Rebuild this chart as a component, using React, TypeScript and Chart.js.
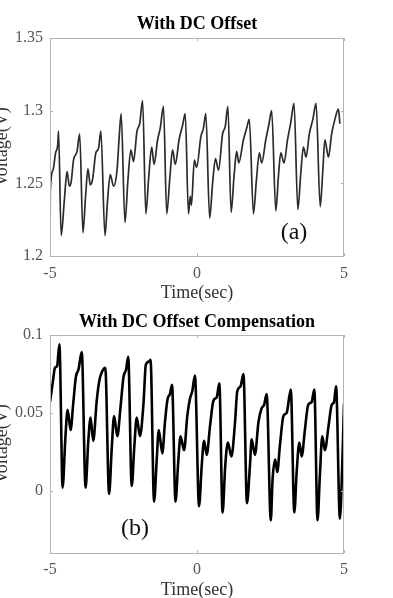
import React, { useEffect, useRef } from "react";
import { Chart, registerables } from "chart.js";

Chart.register(...registerables);

// ---------- data ----------
const timeA = [
  -5, -4.99, -4.9, -4.81, -4.74, -4.71,
  -4.62, -4.51, -4.42, -4.34, -4.28, -4.2, -4.08, -3.99,
  -3.88, -3.79, -3.71, -3.63, -3.55, -3.44, -3.35, -3.27,
  -3.13, -3.04, -2.95, -2.84, -2.72, -2.64, -2.58,
  -2.45, -2.35, -2.25, -2.16, -2.04, -1.95, -1.85,
  -1.74, -1.64, -1.54, -1.46, -1.34, -1.25, -1.14,
  -1.03, -0.92, -0.83, -0.74, -0.61, -0.49, -0.4,
  -0.29, -0.23, -0.19, -0.09, -0.01, 0.13, 0.22, 0.3,
  0.43, 0.53, 0.63, 0.73, 0.87, 0.96, 1.05,
  1.16, 1.26, 1.35, 1.42, 1.58, 1.69, 1.78,
  1.92, 2.02, 2.12, 2.2, 2.34, 2.45, 2.54,
  2.68, 2.77, 2.85, 2.96, 3.08, 3.19, 3.3,
  3.43, 3.53, 3.62, 3.71, 3.82, 3.94, 4.05,
  4.19, 4.28, 4.35, 4.47, 4.58, 4.69, 4.81, 4.86,
];
const voltA = [
  1.2, 1.244, 1.259, 1.271, 1.276, 1.286,
  1.214, 1.239, 1.258, 1.248, 1.251, 1.266, 1.272, 1.284,
  1.216, 1.241, 1.26, 1.249, 1.253, 1.271, 1.274, 1.286,
  1.214, 1.239, 1.256, 1.248, 1.259, 1.284, 1.298,
  1.223, 1.252, 1.273, 1.265, 1.286, 1.291, 1.307,
  1.229, 1.255, 1.275, 1.263, 1.28, 1.288, 1.303,
  1.229, 1.255, 1.273, 1.263, 1.28, 1.29, 1.298,
  1.229, 1.241, 1.235, 1.266, 1.261, 1.282, 1.288, 1.298,
  1.226, 1.25, 1.267, 1.259, 1.284, 1.289, 1.303,
  1.23, 1.255, 1.272, 1.264, 1.28, 1.288, 1.294,
  1.229, 1.252, 1.271, 1.264, 1.28, 1.291, 1.3,
  1.231, 1.255, 1.271, 1.264, 1.28, 1.292, 1.305,
  1.232, 1.257, 1.275, 1.268, 1.284, 1.294, 1.305,
  1.234, 1.259, 1.28, 1.268, 1.284, 1.294, 1.301, 1.291,
];

const timeB = [
  -5, -4.91, -4.83, -4.76, -4.68,
  -4.57, -4.48, -4.4, -4.3, -4.21, -4.12, -4.03, -3.92,
  -3.79, -3.7, -3.62, -3.53, -3.41, -3.32, -3.24, -3.12,
  -2.99, -2.9, -2.82, -2.71, -2.6, -2.5, -2.41, -2.34,
  -2.22, -2.13, -2.05, -1.94, -1.82, -1.74, -1.63, -1.58,
  -1.46, -1.37, -1.3, -1.18, -1.09, -1.0, -0.92, -0.85,
  -0.73, -0.64, -0.56, -0.44, -0.33, -0.24, -0.16, -0.07,
  0.07, 0.16, 0.24, 0.33, 0.44, 0.56, 0.67, 0.76,
  0.87, 0.96, 1.05, 1.17, 1.29, 1.37, 1.48, 1.58,
  1.7, 1.8, 1.86, 1.97, 2.09, 2.2, 2.28, 2.37,
  2.51, 2.57, 2.66, 2.73, 2.82, 2.94, 3.05, 3.19,
  3.31, 3.39, 3.48, 3.56, 3.67, 3.78, 3.9, 3.99,
  4.1, 4.18, 4.26, 4.35, 4.47, 4.58, 4.66, 4.73,
  4.86, 4.94, 5.0,
];
const voltB = [
  0.057, 0.069, 0.079, 0.08, 0.094,
  0.002, 0.033, 0.052, 0.039, 0.056, 0.073, 0.078, 0.089,
  0.002, 0.031, 0.047, 0.032, 0.058, 0.071, 0.076, 0.079,
  -0.002, 0.027, 0.048, 0.035, 0.054, 0.073, 0.078, 0.086,
  0.003, 0.029, 0.047, 0.035, 0.056, 0.081, 0.083, 0.084,
  -0.007, 0.02, 0.039, 0.024, 0.044, 0.059, 0.062, 0.068,
  -0.007, 0.018, 0.035, 0.026, 0.048, 0.059, 0.064, 0.074,
  -0.01, 0.016, 0.032, 0.023, 0.041, 0.058, 0.06, 0.069,
  -0.014, 0.016, 0.031, 0.022, 0.043, 0.064, 0.067, 0.075,
  -0.008, 0.016, 0.033, 0.023, 0.044, 0.053, 0.055, 0.062,
  -0.019, 0.007, 0.02, 0.012, 0.029, 0.048, 0.05, 0.065,
  -0.014, 0.012, 0.031, 0.022, 0.039, 0.055, 0.057, 0.065,
  -0.019, 0.01, 0.035, 0.026, 0.041, 0.055, 0.057, 0.067,
  -0.018, 0.016, 0.056,
];

const xTicks = [-5, 0, 5];
const yTicksA = [1.2, 1.25, 1.3, 1.35];
const yTicksB = [0, 0.05, 0.1];
const titleA = "With DC Offset";
const titleB = "With DC Offset Compensation";
const xTitle = "Time(sec)";
const yTitle = "Voltage(V)";
const tagA = "(a)";
const tagB = "(b)";

// ---------- styling ----------
const SERIF = "'Liberation Serif', 'Times New Roman', serif";

const framePlugin = {
  id: "frame",
  afterDatasetsDraw(chart: any, _args: any, opts: any) {
    const { ctx, chartArea: a, scales } = chart;
    const xs = scales.x;
    const ys = scales.y;
    ctx.save();
    ctx.strokeStyle = "#b4b4b4";
    ctx.lineWidth = 1;
    ctx.strokeRect(a.left + 0.5, a.top + 0.5, a.right - a.left - 1, a.bottom - a.top);
    const L = 3;
    ctx.beginPath();
    xs.ticks.forEach((t: any) => {
      const px = Math.round(xs.getPixelForValue(t.value)) + 0.5;
      ctx.moveTo(px, a.bottom);
      ctx.lineTo(px, a.bottom - L);
      ctx.moveTo(px, a.top);
      ctx.lineTo(px, a.top + L);
    });
    ys.ticks.forEach((t: any) => {
      const py = Math.round(ys.getPixelForValue(t.value)) + 0.5;
      ctx.moveTo(a.left, py);
      ctx.lineTo(a.left + L, py);
      ctx.moveTo(a.right, py);
      ctx.lineTo(a.right - L, py);
    });
    ctx.stroke();
    ctx.fillStyle = "#111";
    ctx.font = `24px ${SERIF}`;
    ctx.textAlign = "center";
    ctx.textBaseline = "middle";
    ctx.fillText(opts.text, xs.getPixelForValue(opts.x), ys.getPixelForValue(opts.y));
    ctx.restore();
  },
};

function makeConfig(p: {
  times: number[];
  volts: number[];
  yMin: number;
  yMax: number;
  yTicks: number[];
  title: string;
  titlePad: { top: number; bottom: number };
  xAxisH: number;
  xTickPad: number;
  xTitlePadB: number;
  lineColor: string;
  lineWidth: number;
  tag: { text: string; x: number; y: number };
}): any {
  const pts = p.times.map((t, i) => ({ x: t, y: p.volts[i] }));
  return {
    type: "line",
    data: {
      datasets: [
        {
          data: pts,
          borderColor: p.lineColor,
          borderWidth: p.lineWidth,
          pointRadius: 0,
          fill: false,
          cubicInterpolationMode: "monotone",
        },
      ],
    },
    options: {
      animation: false,
      responsive: false,
      devicePixelRatio: 1,
      events: [],
      layout: { padding: { left: 0, right: 49, top: 0, bottom: 0 } },
      plugins: {
        legend: { display: false },
        tooltip: { enabled: false },
        title: {
          display: true,
          fullSize: false,
          text: p.title,
          color: "#000",
          font: { family: SERIF, size: 18, weight: "bold", lineHeight: 1.2 },
          padding: p.titlePad,
        },
        frame: p.tag,
      },
      scales: {
        x: {
          type: "linear",
          min: -5,
          max: 5,
          afterBuildTicks: (s: any) => {
            s.ticks = xTicks.map((v) => ({ value: v }));
          },
          afterFit: (s: any) => {
            s.height = p.xAxisH;
          },
          grid: { display: false, drawTicks: false },
          border: { display: false },
          ticks: {
            color: "#555",
            font: { family: SERIF, size: 16 },
            padding: p.xTickPad,
            autoSkip: false,
            maxRotation: 0,
            callback: (v: number) => String(v),
          },
          title: {
            display: true,
            text: xTitle,
            color: "#333",
            font: { family: SERIF, size: 18, lineHeight: 1.2 },
            padding: { top: 0, bottom: p.xTitlePadB },
          },
        },
        y: {
          type: "linear",
          min: p.yMin,
          max: p.yMax,
          afterBuildTicks: (s: any) => {
            s.ticks = p.yTicks.map((v) => ({ value: v }));
          },
          afterFit: (s: any) => {
            s.width = 59;
          },
          grid: { display: false, drawTicks: false },
          border: { display: false },
          ticks: {
            color: "#555",
            font: { family: SERIF, size: 16 },
            padding: 7,
            autoSkip: false,
            callback: (v: number) => String(v),
          },
          title: {
            display: true,
            text: yTitle,
            color: "#333",
            font: { family: SERIF, size: 18, lineHeight: 1.2 },
            padding: { top: 0, bottom: 0 },
          },
        },
      },
    },
    plugins: [framePlugin],
  };
}

function Panel({ top, config }: { top: number; config: () => any }) {
  const ref = useRef<HTMLCanvasElement | null>(null);
  useEffect(() => {
    if (!ref.current) return;
    const chart = new Chart(ref.current, config());
    return () => chart.destroy();
  }, []);
  return (
    <canvas
      ref={ref}
      width={402}
      height={310}
      style={{ position: "absolute", left: -9, top, width: 402, height: 310 }}
    />
  );
}

export default function App() {
  const cfgA = () =>
    makeConfig({
      times: timeA,
      volts: voltA,
      yMin: 1.2,
      yMax: 1.35,
      yTicks: yTicksA,
      title: titleA,
      titlePad: { top: 14, bottom: 2.4 },
      xAxisH: 54,
      xTickPad: 8,
      xTitlePadB: 6.2,
      lineColor: "#2b2b2b",
      lineWidth: 1.7,
      tag: { text: tagA, x: 3.3, y: 1.2158 },
    });
  const cfgB = () =>
    makeConfig({
      times: timeB,
      volts: voltB,
      yMin: -0.04,
      yMax: 0.1,
      yTicks: yTicksB,
      title: titleB,
      titlePad: { top: 11.7, bottom: 1.7 },
      xAxisH: 57,
      xTickPad: 7,
      xTitlePadB: 9.2,
      lineColor: "#000",
      lineWidth: 2.6,
      tag: { text: tagB, x: -2.11, y: -0.0242 },
    });
  return (
    <div
      style={{
        position: "absolute",
        left: 0,
        top: 0,
        width: 393,
        height: 598,
        overflow: "hidden",
        background: "#fff",
      }}
    >
      <Panel top={0} config={cfgA} />
      <Panel top={300} config={cfgB} />
    </div>
  );
}
